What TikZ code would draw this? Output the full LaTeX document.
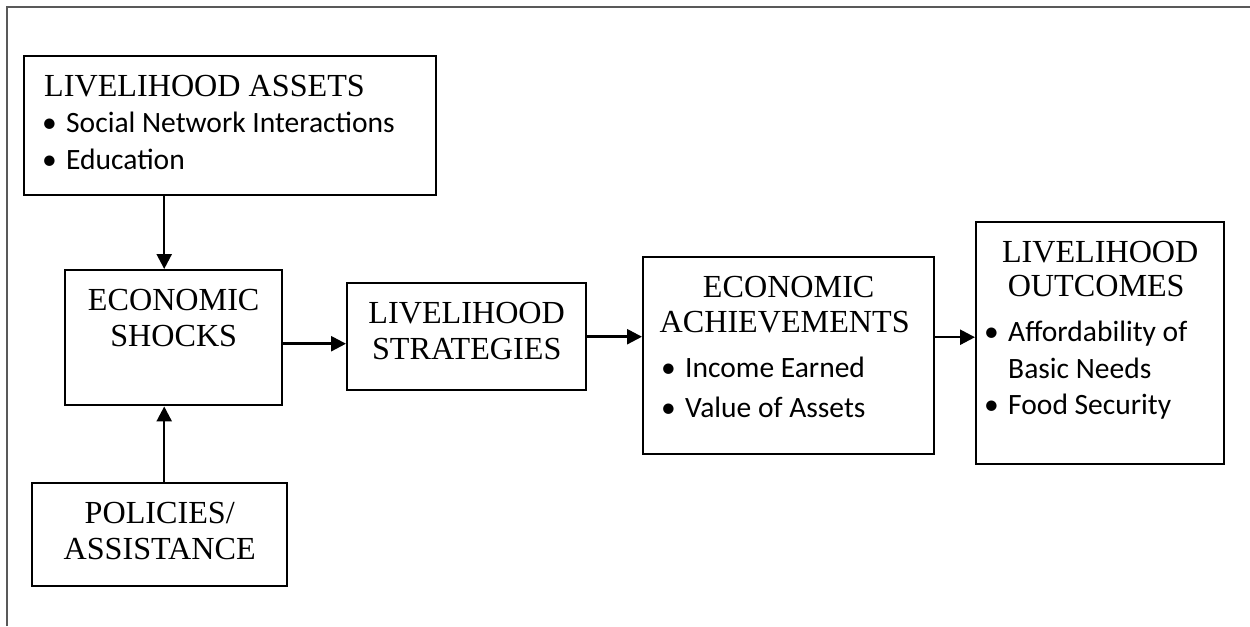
\documentclass[tikz,border=0pt]{standalone}
\usepackage{fontspec}
\setmainfont{Liberation Serif}
\newfontfamily\listfamily{Carlito}
\usetikzlibrary{positioning}
\usetikzlibrary{arrows.meta}

\newcommand{\titlefont}{\fontsize{18.3}{20.8}\selectfont}
\newcommand{\listfont}{\listfamily\fontsize{16.8}{20.8}\selectfont}
% box text: width, height, lines (first baseline 0.8cm below the top)
\newcommand{\boxtext}[3]{\parbox[c][#2][t]{#1}{\titlefont\centering\rule{0pt}{0.8cm}#3}}
% bullet line: space before the bullet, text
\newcommand{\bul}[2]{\par\raggedright\listfont\noindent\hspace*{#1}\makebox[0.48cm][l]{\textbullet}#2}

\begin{document}
\begin{tikzpicture}[
        x=0.02cm, y=-0.02cm,
        box/.style={draw, line width=1.4pt, inner sep=0pt, anchor=north west},
        arrow/.style={line width=1.4pt, -{Triangle[length=0.3cm, width=0.3cm]}},
        frame/.style={draw=black!65, line width=0.8pt},
    ]
        \useasboundingbox (0,0) rectangle (1250,626);
        \draw[frame] (7,626) -- (7,7) -- (1250,7);

        \node[box] (assets) at (23,55) {\boxtext{8.24cm}{2.78cm}{\raggedright\hspace*{0.4cm}LIVELIHOOD ASSETS
            \bul{0.36cm}{Social Network Interactions}
            \bul{0.36cm}{Education}}};
        \node[box] (shocks) at (64,269) {\boxtext{4.34cm}{2.7cm}{ECONOMIC\\SHOCKS}};
        \node[box] (policies) at (31,482) {\boxtext{5.1cm}{2.06cm}{POLICIES/\\ASSISTANCE}};
        \node[box] (strategies) at (346,282) {\boxtext{4.78cm}{2.14cm}{LIVELIHOOD\\STRATEGIES}};
        \node[box] (achieve) at (642,256) {\boxtext{5.82cm}{3.94cm}{ECONOMIC\\[-1pt]ACHIEVEMENTS
            \vspace{5pt}
            \bul{0.36cm}{Income Earned}
            \vspace{2pt}
            \bul{0.36cm}{Value of Assets}}};
        \node[box] (outcomes) at (975,221) {\boxtext{4.96cm}{4.84cm}{LIVELIHOOD\\[-1.5pt]OUTCOMES
            \vspace{5pt}
            \bul{0.16cm}{Affordability of}\par\hspace*{0.64cm}Basic Needs
            \bul{0.16cm}{Food Security}}};

        \draw[arrow] ([xshift=-0.19cm]shocks.north |- assets.south) -- ([xshift=-0.19cm]shocks.north);
        \draw[arrow] ([xshift=-0.19cm]shocks.south |- policies.north) -- ([xshift=-0.19cm]shocks.south);
        \draw[arrow] ([yshift=-0.12cm]shocks.east) -- ([yshift=-0.12cm]strategies.west |- shocks.east);
        \draw[arrow] (strategies.east) -- (achieve.west |- strategies.east);
        \draw[arrow] ([yshift=0.12cm]achieve.east |- outcomes.west) -- ([yshift=0.12cm]outcomes.west);
    \end{tikzpicture}
\end{document}
